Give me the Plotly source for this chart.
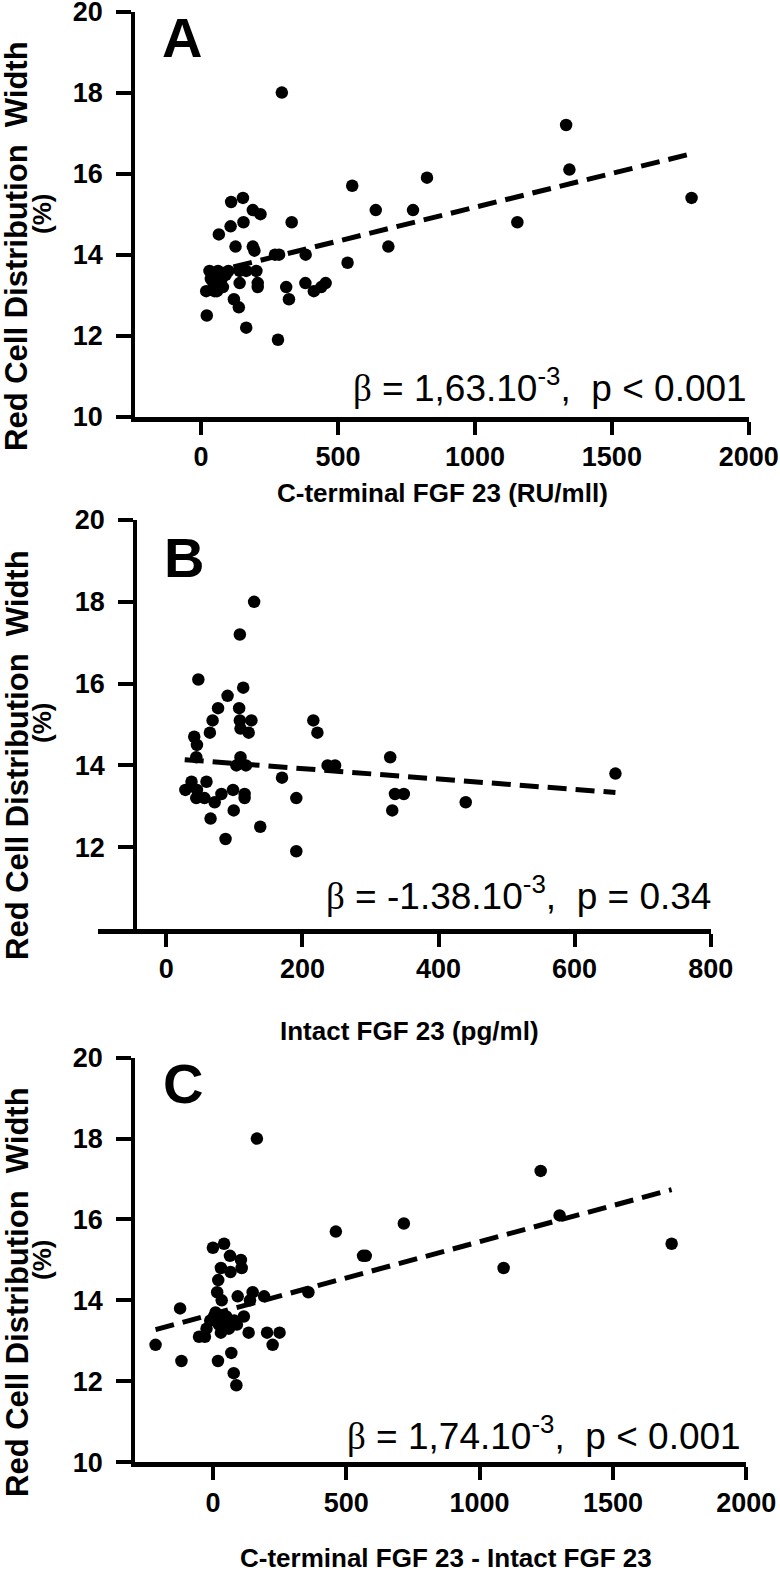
import plotly.graph_objects as go

# ---------------- data ----------------
# Panel A: C-terminal FGF 23 (RU/mll) vs RDW (%)
a_x = [295, 1333, 1345, 1791, 825, 552, 638, 774, 1155, 684, 535, 331, 382, 381, 311,
       321, 281, 412, 439, 455, 270, 285, 165, 138, 120, 21, 19, 49, 31, 62, 36, 75,
       80, 58, 141, 141, 165, 202, 207, 207, 126, 189, 195, 65, 108, 155, 110, 153,
       189, 217, 90, 45, 100]
a_y = [18.0, 17.2, 16.1, 15.4, 15.9, 15.7, 15.1, 15.1, 14.8, 14.2, 13.8, 14.8, 14.0, 13.3, 13.2,
       12.9, 11.9, 13.1, 13.2, 13.3, 14.0, 14.0, 12.2, 12.7, 12.9, 12.5, 13.1, 13.1, 13.6, 13.6, 13.4, 13.4,
       13.2, 13.1, 13.3, 13.6, 13.6, 13.6, 13.3, 13.2, 14.2, 14.2, 14.1, 14.5, 14.7, 14.8, 15.3, 15.4,
       15.1, 15.0, 13.5, 13.3, 13.6]

# Panel B: Intact FGF 23 (pg/ml) vs RDW (%)
b_x = [129, 108, 47, 113, 90, 76, 107, 108, 68, 125, 109, 64, 121, 216, 222, 41, 45, 44,
       109, 103, 117, 237, 248, 329, 660, 170, 37, 59, 28, 45, 44, 56, 71, 81, 98, 115,
       115, 191, 65, 99, 138, 87, 191, 332, 336, 349, 440]
b_y = [18.0, 17.2, 16.1, 15.9, 15.7, 15.4, 15.4, 15.1, 15.1, 15.1, 14.9, 14.8, 14.8, 15.1, 14.8, 14.7, 14.5, 14.2,
       14.2, 14.0, 14.0, 14.0, 14.0, 14.2, 13.8, 13.7, 13.6, 13.6, 13.4, 13.4, 13.2, 13.2, 13.1, 13.3, 13.4, 13.3,
       13.2, 13.2, 12.7, 12.9, 12.5, 12.2, 11.9, 12.9, 13.3, 13.3, 13.1]

# Panel C: C-terminal FGF 23 - Intact FGF 23 vs RDW (%)
c_x = [165, 1229, 1300, 1720, 716, 461, 563, 573, 1090, 358, -215, -123, -118, -52, 19, 69,
       78, 88, 224, 203, 250, 134, 116, 0, 42, 64, 105, 108, 30, 66, 20, 16, 33, 93, 149,
       139, 192, -24, 22, 60, 50, 4, -30, 30, 80, 10, 40, 90, -10]
c_y = [18.0, 17.2, 16.1, 15.4, 15.9, 15.7, 15.1, 15.1, 14.8, 14.2, 12.9, 13.8, 12.5, 13.1, 12.5, 12.7,
       12.2, 11.9, 12.9, 13.2, 13.2, 13.2, 13.6, 15.3, 15.4, 15.1, 15.0, 14.8, 14.8, 14.7, 14.5, 14.2, 14.0, 14.1, 14.2,
       14.0, 14.1, 13.3, 13.4, 13.3, 13.6, 13.6, 13.1, 13.2, 13.5, 13.7, 13.5, 13.4, 13.5]

# Regression lines: intercept, slope, x extent
a_fit = dict(b0=13.50, b1=0.00167, x0=19, x1=1791)
b_fit = dict(b0=14.175, b1=-0.00127, x0=27, x1=660)
c_fit = dict(b0=13.66, b1=0.00179, x0=-215, x1=1720)

a_yticks = [10, 12, 14, 16, 18, 20]
b_yticks = [12, 14, 16, 18, 20]
c_yticks = [10, 12, 14, 16, 18, 20]
a_ticks = [0, 500, 1000, 1500, 2000]
b_ticks = [0, 200, 400, 600, 800]
c_ticks = [0, 500, 1000, 1500, 2000]

panel_letters = ["A", "B", "C"]
x_titles = ["C-terminal FGF 23 (RU/mll)", "Intact FGF 23 (pg/ml)", "C-terminal FGF 23 - Intact FGF 23"]
y_title = "Red Cell Distribution\u00a0 Width"
y_title2 = "(%)"
BETA = "<span style='font-family:Liberation Serif'>β</span>"
stats = [
    BETA + " = 1,63.10<sup>-3</sup>,\u00a0 p &lt; 0.001",
    BETA + " = -1.38.10<sup>-3</sup>,\u00a0 p = 0.34",
    BETA + " = 1,74.10<sup>-3</sup>,\u00a0 p &lt; 0.001",
]

# ---------------- layout helpers ----------------
W, H = 780, 1573
def px(x):
    return x / W
def py(y):
    return 1 - y / H

FONT = "Liberation Sans, Arial, sans-serif"

def bold(vals):
    return ["<b>%s</b>" % v for v in vals]

fig = go.Figure()

panels = [
    dict(x=a_x, y=a_y, fit=a_fit, ticks=a_ticks, yticks=a_yticks, xr=[-240, 2000],
         xdom=(135.3, 748.8), ydom=(11.5, 416.8)),
    dict(x=b_x, y=b_y, fit=b_fit, ticks=b_ticks, yticks=b_yticks, xr=[-100, 800],
         xdom=(98.3, 710.7), ydom=(520.0, 929.0)),
    dict(x=c_x, y=c_y, fit=c_fit, ticks=c_ticks, yticks=c_yticks, xr=[-291, 2000],
         xdom=(135.3, 746.3), ydom=(1057.7, 1462.1)),
]

for i, p in enumerate(panels):
    n = "" if i == 0 else str(i + 1)
    xa, ya = "x" + n, "y" + n
    f = p["fit"]
    fx = [f["x0"], f["x1"]]
    fy = [f["b0"] + f["b1"] * v for v in fx]
    fig.add_trace(go.Scatter(x=fx, y=fy, mode="lines", xaxis=xa, yaxis=ya,
                             line=dict(color="black", width=5, dash="19px,9px"),
                             showlegend=False, hoverinfo="skip"))
    fig.add_trace(go.Scatter(x=p["x"], y=p["y"], mode="markers", xaxis=xa, yaxis=ya,
                             marker=dict(color="black", size=12.5, line=dict(width=0)),
                             showlegend=False))

    xaxis = dict(domain=[px(p["xdom"][0]), px(p["xdom"][1])], range=p["xr"],
                 anchor=ya, showline=True, linecolor="black", linewidth=5,
                 ticks="outside", ticklen=13, tickwidth=4, tickcolor="black",
                 tickvals=p["ticks"], ticktext=bold(p["ticks"]),
                 showgrid=False, zeroline=False, automargin=False,
                 ticklabeloverflow="allow",
                 tickfont=dict(family=FONT, size=27, color="black", weight="bold"),
                 ticklabelstandoff=-1)
    yaxis = dict(domain=[py(p["ydom"][1]), py(p["ydom"][0])], range=[10, 20],
                 showline=True, linecolor="black", linewidth=4, automargin=False,
                 ticks="outside", ticklen=15, tickwidth=4, tickcolor="black",
                 tickvals=p["yticks"], ticktext=bold(p["yticks"]),
                 showgrid=False, zeroline=False, ticklabeloverflow="allow",
                 tickfont=dict(family=FONT, size=27, color="black", weight="bold"),
                 ticklabelstandoff=8)
    if i == 1:
        yaxis.update(anchor="free", position=px(135.3))
    else:
        yaxis.update(anchor=xa)
    fig.layout["xaxis" + n] = xaxis
    fig.layout["yaxis" + n] = yaxis

# text positions (pixels)
letter_pos = [(182, 38), (184, 557), (183, 1083)]
stat_pos = [(749, 385), (713, 893), (743, 1433)]
xtitle_pos = [(442, 493), (409, 1031), (446, 1558)]
ytitle_cy = [246, 755, 1292]

ann = []
for i in range(3):
    ann.append(dict(text="<b>%s</b>" % panel_letters[i], x=px(letter_pos[i][0]), y=py(letter_pos[i][1]),
                    xref="paper", yref="paper", showarrow=False, xanchor="center", yanchor="middle",
                    font=dict(family=FONT, size=56, color="black")))
    ann.append(dict(text=stats[i], x=px(stat_pos[i][0]), y=py(stat_pos[i][1]),
                    xref="paper", yref="paper", showarrow=False, xanchor="right", yanchor="middle",
                    font=dict(family=FONT, size=37, color="black")))
    ann.append(dict(text="<b>%s</b>" % x_titles[i], x=px(xtitle_pos[i][0]), y=py(xtitle_pos[i][1]),
                    xref="paper", yref="paper", showarrow=False, xanchor="center", yanchor="middle",
                    font=dict(family=FONT, size=26, color="black")))
    ann.append(dict(text="<b>%s</b>" % y_title, x=px(17), y=py(ytitle_cy[i]), textangle=-90,
                    xref="paper", yref="paper", showarrow=False, xanchor="center", yanchor="middle",
                    font=dict(family=FONT, size=31, color="black")))
    ann.append(dict(text="<b>%s</b>" % y_title2, x=px(42), y=py(ytitle_cy[i] - 32), textangle=-90,
                    xref="paper", yref="paper", showarrow=False, xanchor="center", yanchor="middle",
                    font=dict(family=FONT, size=26, color="black")))

fig.update_layout(width=W, height=H, autosize=False, margin=dict(l=0, r=0, t=0, b=0),
                  paper_bgcolor="white", plot_bgcolor="white", annotations=ann)

fig.write_html("out.html", config={"displayModeBar": False},
               post_script="document.body.style.margin='0';")
